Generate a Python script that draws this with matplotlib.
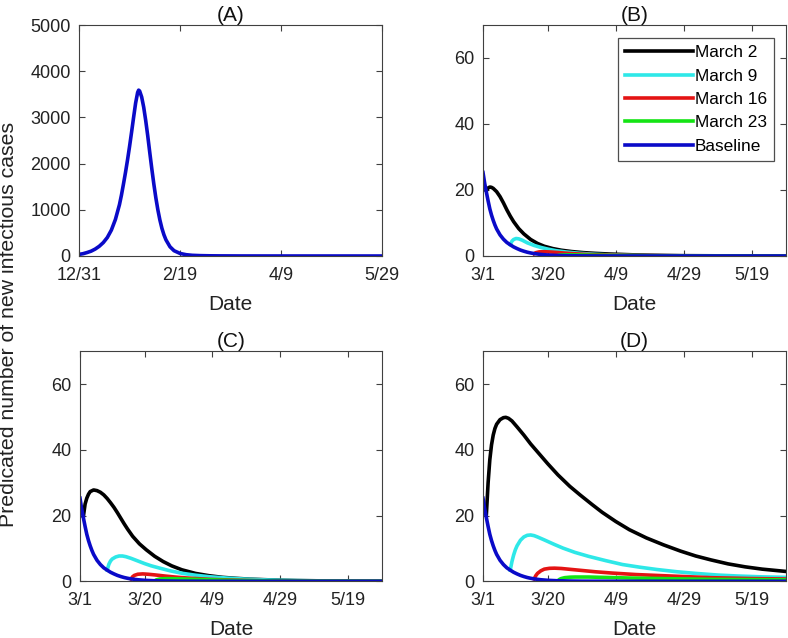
import matplotlib
matplotlib.use("Agg")
import matplotlib.pyplot as plt

plt.rcParams['font.family'] = ['Liberation Sans', 'DejaVu Sans']

# ---------------- data (day index: 0 = 12/31) ----------------
a_ticks = [0, 50, 100, 150]
a_tick_labels = ['12/31', '2/19', '4/9', '5/29']
bcd_ticks = [61, 80, 100, 120, 140]
bcd_tick_labels = ['3/1', '3/20', '4/9', '4/29', '5/19']

# Panel A baseline
a_day = [0, 2, 4, 6, 8, 10, 12, 14, 16, 18, 20, 21, 22, 23, 24, 25, 26, 27, 28, 29, 29.5,
         30, 31, 32, 33, 34, 35, 36, 37, 38, 39, 40, 41, 42, 43, 45, 47, 50, 53, 56, 60,
         65, 70, 80, 100, 150]
a_val = [35, 50, 75, 105, 150, 210, 290, 400, 560, 790, 1110, 1320, 1560, 1810, 2080,
         2370, 2680, 3000, 3310, 3540, 3590, 3570, 3440, 3220, 2930, 2600, 2240, 1890,
         1560, 1260, 1000, 780, 600, 460, 350, 200, 115, 55, 28, 15, 8, 4, 2.5, 1, 0.3, 0]

# Baseline shared by B-D
base_day = [61, 61.5, 62, 62.5, 63, 63.5, 64, 64.5, 65, 66, 67, 68, 69, 70, 71, 72, 73,
            74, 75, 76, 78, 80, 83, 86, 90, 100, 150]
base_val = [25.3, 22.0, 19.3, 16.7, 14.3, 12.4, 10.8, 9.4, 8.2, 6.4, 5.1, 4.1, 3.4, 2.75,
            2.25, 1.8, 1.45, 1.15, 0.92, 0.73, 0.47, 0.3, 0.16, 0.09, 0.04, 0.01, 0.0]

# Panel B
b_m2_day = [62, 62.5, 63, 63.5, 64, 65, 66, 67, 68, 69, 70, 71.5, 73, 75, 77, 79, 81.5,
            84, 87, 90.5, 94, 98, 101, 105, 110, 115, 120, 135, 150]
b_m2_val = [19.8, 20.6, 20.9, 20.8, 20.5, 19.5, 18.0, 16.1, 14.0, 12.1, 10.4, 8.3, 6.7,
            5.0, 3.8, 2.95, 2.25, 1.75, 1.35, 1.02, 0.8, 0.6, 0.5, 0.36, 0.24, 0.16, 0.1,
            0.03, 0.01]
b_m9_day = [69, 69.5, 70, 70.7, 71.5, 72.5, 74, 76, 78, 80, 82.5, 85.5, 89.5, 94, 99, 105,
            110, 125, 150]
b_m9_val = [3.4, 4.5, 5.0, 5.3, 5.2, 4.8, 4.0, 3.2, 2.6, 2.1, 1.6, 1.2, 0.8, 0.5, 0.3,
            0.17, 0.1, 0.03, 0.01]
b_m16_day = [76, 76.5, 77.5, 79, 81, 83, 86, 90, 95, 100, 105, 120, 150]
b_m16_val = [0.7, 1.0, 1.25, 1.3, 1.2, 1.05, 0.8, 0.55, 0.35, 0.22, 0.14, 0.05, 0.01]
b_m23_day = [83, 83.5, 85, 87, 90, 95, 100, 110, 150]
b_m23_val = [0.15, 0.28, 0.35, 0.35, 0.3, 0.22, 0.14, 0.06, 0.01]

# Panel C
c_m2_day = [62, 62.5, 63, 63.5, 64, 65, 66, 67, 68, 69, 70, 71, 72, 73, 74, 75, 76.5, 78.5,
            80.5, 83, 85.5, 88, 91, 95, 99, 103, 107, 111, 115, 120, 125, 135, 150]
c_m2_val = [19.8, 23.5, 25.3, 26.5, 27.3, 27.8, 27.6, 27.1, 26.3, 25.2, 23.9, 22.5, 20.9,
            19.2, 17.5, 15.9, 13.7, 11.4, 9.6, 7.6, 6.0, 4.7, 3.5, 2.4, 1.7, 1.2, 0.9, 0.65,
            0.5, 0.33, 0.22, 0.1, 0.03]
c_m9_day = [69, 69.5, 70, 70.5, 71.5, 72.5, 73.5, 74.5, 76, 78, 80, 82, 84.5, 87.5, 91, 95,
            99, 104, 109, 115, 120, 128, 135, 150]
c_m9_val = [3.4, 5.2, 6.2, 6.8, 7.4, 7.7, 7.7, 7.5, 7.0, 6.2, 5.4, 4.7, 4.0, 3.2, 2.45,
            1.85, 1.4, 1.0, 0.7, 0.45, 0.3, 0.17, 0.1, 0.04]
c_m16_day = [76, 76.5, 77, 78, 79.5, 81, 83, 86, 90, 94, 99, 105, 110, 118, 125, 150]
c_m16_val = [0.7, 1.4, 1.8, 2.15, 2.25, 2.15, 1.95, 1.6, 1.2, 0.9, 0.6, 0.4, 0.25, 0.14,
             0.08, 0.02]
c_m23_day = [83, 83.5, 84.5, 86, 88, 91, 95, 100, 105, 112, 120, 150]
c_m23_val = [0.15, 0.45, 0.7, 0.8, 0.8, 0.72, 0.6, 0.45, 0.3, 0.18, 0.1, 0.02]

# Panel D
d_m2_day = [62, 62.5, 63, 63.5, 64, 64.5, 65, 66, 67, 67.7, 68.5, 69.5, 71, 73, 75, 77, 80,
            83, 86.5, 89.5, 93, 96, 100, 104, 109, 114, 119, 123.5, 128, 133, 138, 143, 150]
d_m2_val = [20.5, 30, 37, 41.5, 44.5, 46.5, 47.8, 49.2, 49.8, 49.9, 49.6, 48.8, 47, 44.5,
            41.8, 39.4, 35.8, 32.4, 28.9, 26.3, 23.4, 21.0, 18.2, 15.7, 13.2, 11.1, 9.2, 7.7,
            6.5, 5.3, 4.4, 3.7, 3.0]
d_m9_day = [69, 69.5, 70, 70.5, 71, 72, 73, 74, 75, 76, 77, 79, 82, 84.5, 88, 92, 97, 102,
            107, 112, 118, 123.5, 130, 136, 143, 150]
d_m9_val = [3.4, 6.0, 8.0, 9.6, 10.8, 12.5, 13.5, 14.0, 14.1, 13.9, 13.5, 12.6, 11.2, 10.1,
            8.8, 7.6, 6.3, 5.1, 4.3, 3.6, 2.9, 2.4, 1.9, 1.6, 1.35, 1.2]
d_m16_day = [76, 76.5, 77, 78, 79, 80.5, 82, 84, 86, 89.5, 94, 99, 106, 114, 121, 128, 139,
             150]
d_m16_val = [0.7, 1.7, 2.4, 3.2, 3.7, 3.95, 4.0, 3.9, 3.7, 3.35, 2.9, 2.5, 2.05, 1.7, 1.4,
             1.1, 0.85, 0.7]
d_m23_day = [83, 83.5, 84, 85, 86.5, 88, 92, 98, 104, 115, 128, 150]
d_m23_val = [0.2, 0.6, 0.85, 1.1, 1.25, 1.3, 1.3, 1.15, 1.0, 0.8, 0.6, 0.45]

labels = ['March 2', 'March 9', 'March 16', 'March 23', 'Baseline']
colors = ['#000000', '#2EE8E8', '#E41414', '#14E414', '#0A0AC8']

# ---------------- figure ----------------
W, H = 788, 638
fig = plt.figure(figsize=(W / 100, H / 100), dpi=100)

def rect(l, r, t, b):
    return [l / W, 1 - b / H, (r - l) / W, (b - t) / H]

axA = fig.add_axes(rect(79, 382.3, 25, 256))
axB = fig.add_axes(rect(483, 786, 25, 256))
axC = fig.add_axes(rect(80, 382.3, 351.3, 581.3))
axD = fig.add_axes(rect(483, 786, 351.3, 581.3))

edge = '#404040'
tick_fs = 13
lw = 2.6

def style(ax, title):
    for s in ax.spines.values():
        s.set_color(edge)
        s.set_linewidth(0.8)
    ax.tick_params(direction='in', top=True, right=True, length=4, width=0.8,
                   colors=edge, labelcolor='#222222', labelsize=tick_fs)
    ax.tick_params(axis='x', pad=8)
    ax.tick_params(axis='y', pad=6)
    ax.set_xlabel('Date', fontsize=15, color='#222222', labelpad=7.5)
    ax.set_title(title, fontsize=15, color='#111111', pad=3)

# Panel A
axA.plot(a_day, a_val, color=colors[4], lw=lw)
axA.set_xlim(0, 150)
axA.set_ylim(0, 5000)
axA.set_xticks(a_ticks, a_tick_labels)
axA.set_yticks([0, 1000, 2000, 3000, 4000, 5000])
style(axA, '(A)')

panels = [
    (axB, '(B)', [(b_m2_day, b_m2_val), (b_m9_day, b_m9_val), (b_m16_day, b_m16_val), (b_m23_day, b_m23_val)]),
    (axC, '(C)', [(c_m2_day, c_m2_val), (c_m9_day, c_m9_val), (c_m16_day, c_m16_val), (c_m23_day, c_m23_val)]),
    (axD, '(D)', [(d_m2_day, d_m2_val), (d_m9_day, d_m9_val), (d_m16_day, d_m16_val), (d_m23_day, d_m23_val)]),
]
for ax, title, series in panels:
    for (xd, yd), col, lab in zip(series, colors[:4], labels[:4]):
        ax.plot(xd, yd, color=col, lw=lw, label=lab)
    ax.plot(base_day, base_val, color=colors[4], lw=lw, label=labels[4])
    ax.set_xlim(61, 150)
    ax.set_ylim(0, 70)
    ax.set_xticks(bcd_ticks, bcd_tick_labels)
    ax.set_yticks([0, 20, 40, 60])
    style(ax, title)

leg = axB.legend(loc='upper right', bbox_to_anchor=((774 - 483) / 303, (256 - 38) / 231),
                 borderaxespad=0, fontsize=12.4, frameon=True, fancybox=False,
                 handlelength=3.9, handletextpad=0.12, labelspacing=0.48, borderpad=0.42)
leg.get_frame().set_edgecolor('#222222')
leg.get_frame().set_linewidth(0.9)

fig.text(9 / W, 1 - 324.5 / H, 'Predicated number of new infectious cases', rotation=90,
         ha='center', va='center', fontsize=15.3, color='#222222')

fig.savefig('out.png', dpi=100)
